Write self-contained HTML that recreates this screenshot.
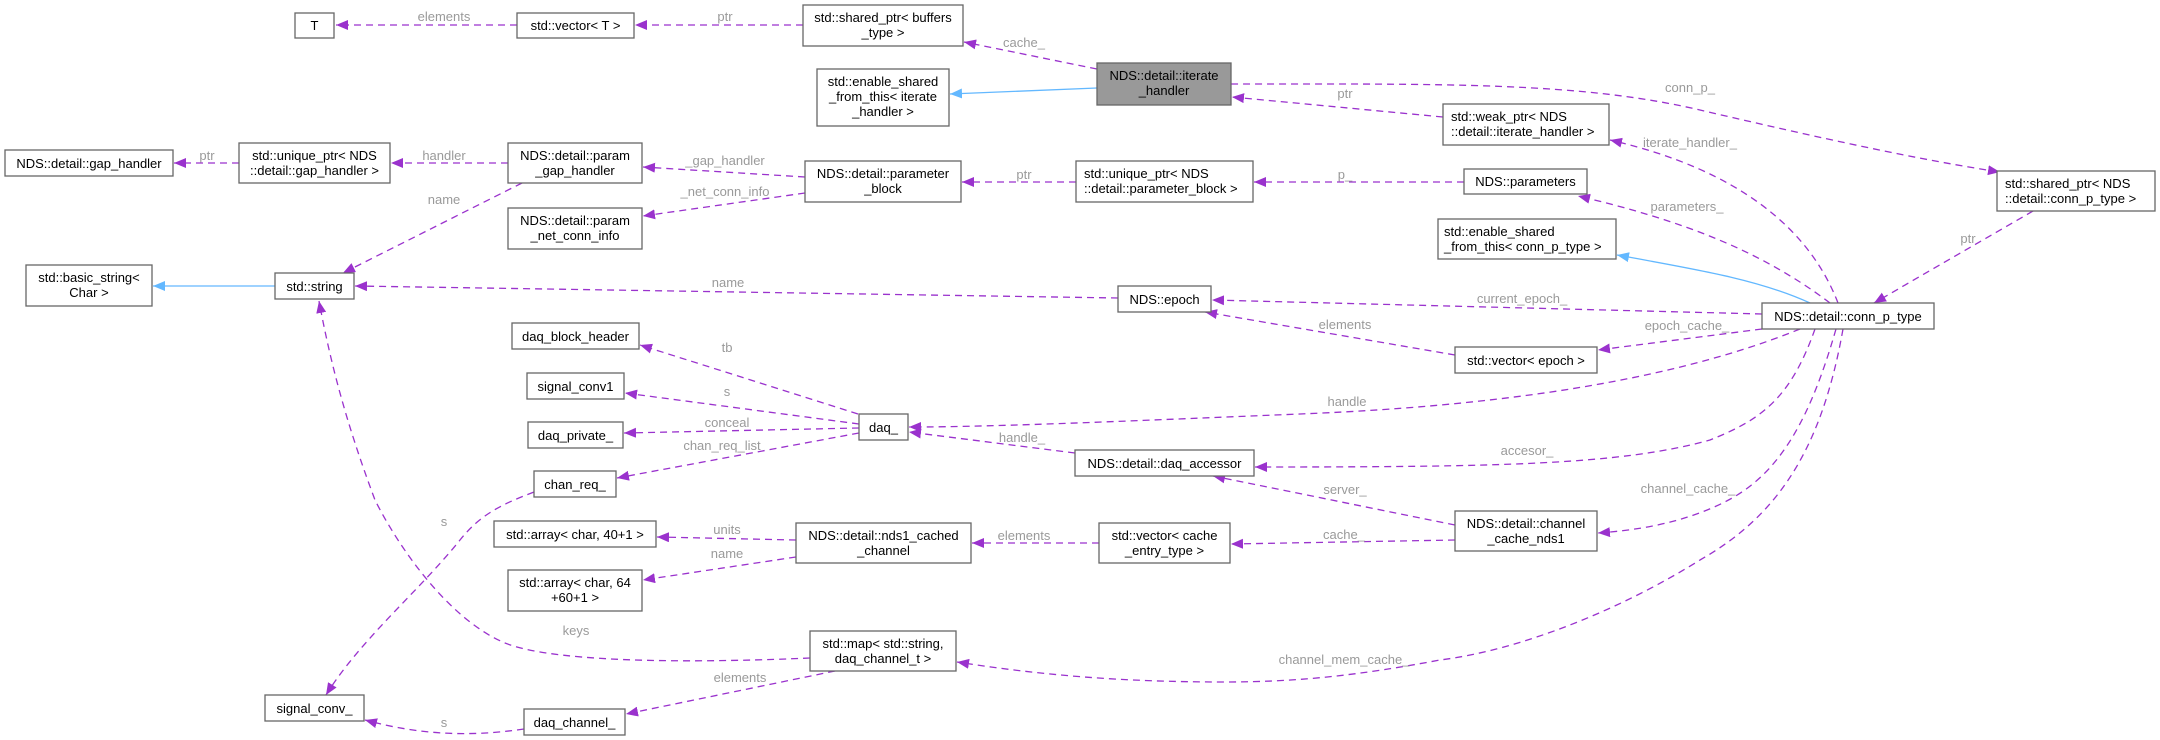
<!DOCTYPE html>
<html><head><meta charset="utf-8"><style>
html,body{margin:0;padding:0;background:#fff;}
svg{display:block;}
.n rect{fill:#fff;stroke:#666;stroke-width:1.3;}
.n text{font-family:"Liberation Sans",sans-serif;font-size:13px;fill:#000;}
.e{fill:none;stroke:#9a32cd;stroke-width:1.3;stroke-dasharray:7,5;}
.b{fill:none;stroke:#63b8ff;stroke-width:1.3;}
.l{font-family:"Liberation Sans",sans-serif;font-size:13px;fill:#9a9a9a;text-anchor:middle;}
</style></head><body>
<svg width="2160" height="740" viewBox="0 0 2160 740" xmlns="http://www.w3.org/2000/svg">
<defs>
<marker id="p" markerUnits="userSpaceOnUse" markerWidth="14" markerHeight="12" refX="12" refY="5" orient="auto"><path d="M0,0 L12,5 L0,10 Z" fill="#9a32cd"/></marker>
<marker id="q" markerUnits="userSpaceOnUse" markerWidth="14" markerHeight="12" refX="12" refY="5" orient="auto"><path d="M0,0 L12,5 L0,10 Z" fill="#63b8ff"/></marker>
</defs>

<!-- edges -->
<path class="e" marker-end="url(#p)" d="M517,25 L336,25"/><text class="l" x="444" y="21">elements</text>
<path class="e" marker-end="url(#p)" d="M803,25 L635,25"/><text class="l" x="725" y="21">ptr</text>
<path class="e" marker-end="url(#p)" d="M1097,69 L964,42"/><text class="l" x="1024" y="47">cache_</text>
<path class="b" marker-end="url(#q)" d="M1097,88 L950,94"/>
<path class="e" marker-end="url(#p)" d="M1231,84 C1450,84 1580,82 1700,110 C1820,138 1920,160 2000,172"/><text class="l" x="1690" y="92">conn_p_</text>
<path class="e" marker-end="url(#p)" d="M1443,117 L1232,97"/><text class="l" x="1345" y="98">ptr</text>
<path class="e" marker-end="url(#p)" d="M1838,303 C1810,230 1740,170 1610,140"/><text class="l" x="1690" y="147">iterate_handler_</text>
<path class="e" marker-end="url(#p)" d="M1830,303 C1760,250 1680,220 1578,196"/><text class="l" x="1687" y="211">parameters_</text>
<path class="b" marker-end="url(#q)" d="M1810,303 C1760,280 1700,270 1617,255"/>
<path class="e" marker-end="url(#p)" d="M2033,211 L1874,303"/><text class="l" x="1968" y="243">ptr</text>
<path class="e" marker-end="url(#p)" d="M1762,314 L1212,300"/><text class="l" x="1522" y="303">current_epoch_</text>
<path class="e" marker-end="url(#p)" d="M1762,329 L1598,350"/><text class="l" x="1687" y="330">epoch_cache_</text>
<path class="e" marker-end="url(#p)" d="M1455,355 L1205,312"/><text class="l" x="1345" y="329">elements</text>
<path class="e" marker-end="url(#p)" d="M1118,298 L355,286"/><text class="l" x="728" y="287">name</text>
<path class="e" marker-end="url(#p)" d="M508,163 L391,163"/><text class="l" x="444" y="160">handler</text>
<path class="e" marker-end="url(#p)" d="M239,163 L174,163"/><text class="l" x="207" y="160">ptr</text>
<path class="e" marker-end="url(#p)" d="M522,183 L343,273"/><text class="l" x="444" y="204">name</text>
<path class="e" marker-end="url(#p)" d="M805,177 L643,167"/><text class="l" x="725" y="165">_gap_handler</text>
<path class="e" marker-end="url(#p)" d="M805,193 L643,216"/><text class="l" x="725" y="196">_net_conn_info</text>
<path class="e" marker-end="url(#p)" d="M1076,182 L962,182"/><text class="l" x="1024" y="179">ptr</text>
<path class="e" marker-end="url(#p)" d="M1464,182 L1254,182"/><text class="l" x="1345" y="179">p_</text>
<path class="b" marker-end="url(#q)" d="M275,286 L153,286"/>
<path class="e" marker-end="url(#p)" d="M858,414 L640,345"/><text class="l" x="727" y="352">tb</text>
<path class="e" marker-end="url(#p)" d="M859,424 L625,393"/><text class="l" x="727" y="396">s</text>
<path class="e" marker-end="url(#p)" d="M859,428 L624,433"/><text class="l" x="727" y="427">conceal</text>
<path class="e" marker-end="url(#p)" d="M859,433 L617,478"/><text class="l" x="722" y="450">chan_req_list</text>
<path class="e" marker-end="url(#p)" d="M1800,329 C1650,390 1450,408 1300,414 C1150,420 1000,427 909,427"/><text class="l" x="1347" y="406">handle</text>
<path class="e" marker-end="url(#p)" d="M1075,453 L909,432"/><text class="l" x="1022" y="442">handle_</text>
<path class="e" marker-end="url(#p)" d="M1815,329 C1790,400 1760,420 1710,440 C1620,465 1500,467 1255,467"/><text class="l" x="1527" y="455">accesor_</text>
<path class="e" marker-end="url(#p)" d="M1455,525 L1213,476"/><text class="l" x="1345" y="494">server_</text>
<path class="e" marker-end="url(#p)" d="M1836,329 C1810,420 1780,470 1734,497 C1690,522 1640,530 1598,533"/><text class="l" x="1688" y="493">channel_cache_</text>
<path class="e" marker-end="url(#p)" d="M1455,540 L1231,544"/><text class="l" x="1344" y="539">cache_</text>
<path class="e" marker-end="url(#p)" d="M1099,543 L972,543"/><text class="l" x="1024" y="540">elements</text>
<path class="e" marker-end="url(#p)" d="M796,540 L657,537"/><text class="l" x="727" y="534">units</text>
<path class="e" marker-end="url(#p)" d="M796,557 L643,580"/><text class="l" x="727" y="558">name</text>
<path class="e" marker-end="url(#p)" d="M1843,329 C1820,460 1770,520 1700,560 C1620,610 1520,650 1440,660 C1360,675 1300,682 1225,682 C1120,682 1040,675 957,662"/><text class="l" x="1344" y="664">channel_mem_cache_</text>
<path class="e" marker-end="url(#p)" d="M810,658 C720,662 560,665 505,643 C450,620 400,550 375,500 C345,420 330,360 319,301"/><text class="l" x="576" y="635">keys</text>
<path class="e" marker-end="url(#p)" d="M835,671 L626,714"/><text class="l" x="740" y="682">elements</text>
<path class="e" marker-end="url(#p)" d="M534,492 C500,505 480,515 460,540 C420,590 360,640 326,695"/><text class="l" x="444" y="526">s</text>
<path class="e" marker-end="url(#p)" d="M524,729 C470,737 420,735 365,720"/><text class="l" x="444" y="727">s</text>

<!-- nodes -->
<g class="n">
<rect x="295" y="13" width="39" height="25"/><text x="314.5" y="30" text-anchor="middle">T</text>
<rect x="517" y="13" width="117" height="25"/><text x="575.5" y="30" text-anchor="middle">std::vector&lt; T &gt;</text>
<rect x="803" y="5" width="160" height="41"/><text x="883" y="22" text-anchor="middle">std::shared_ptr&lt; buffers</text><text x="883" y="37" text-anchor="middle">_type &gt;</text>
<rect x="817" y="69" width="132" height="57"/><text x="883" y="86" text-anchor="middle">std::enable_shared</text><text x="883" y="101" text-anchor="middle">_from_this&lt; iterate</text><text x="883" y="116" text-anchor="middle">_handler &gt;</text>
<rect x="1097" y="63" width="134" height="42" style="fill:#999"/><text x="1164" y="80" text-anchor="middle">NDS::detail::iterate</text><text x="1164" y="95" text-anchor="middle">_handler</text>
<rect x="5" y="150" width="168" height="26"/><text x="89" y="168" text-anchor="middle">NDS::detail::gap_handler</text>
<rect x="239" y="143" width="151" height="40"/><text x="314.5" y="160" text-anchor="middle">std::unique_ptr&lt; NDS</text><text x="314.5" y="175" text-anchor="middle">::detail::gap_handler &gt;</text>
<rect x="508" y="143" width="134" height="40"/><text x="575" y="160" text-anchor="middle">NDS::detail::param</text><text x="575" y="175" text-anchor="middle">_gap_handler</text>
<rect x="508" y="208" width="134" height="41"/><text x="575" y="225" text-anchor="middle">NDS::detail::param</text><text x="575" y="240" text-anchor="middle">_net_conn_info</text>
<rect x="805" y="161" width="156" height="41"/><text x="883" y="178" text-anchor="middle">NDS::detail::parameter</text><text x="883" y="193" text-anchor="middle">_block</text>
<rect x="1076" y="161" width="177" height="41"/><text x="1084" y="178">std::unique_ptr&lt; NDS</text><text x="1084" y="193">::detail::parameter_block &gt;</text>
<rect x="1443" y="104" width="166" height="41"/><text x="1451" y="121">std::weak_ptr&lt; NDS</text><text x="1451" y="136">::detail::iterate_handler &gt;</text>
<rect x="1464" y="169" width="123" height="25"/><text x="1525.5" y="186" text-anchor="middle">NDS::parameters</text>
<rect x="1438" y="219" width="178" height="40"/><text x="1444" y="236">std::enable_shared</text><text x="1444" y="251">_from_this&lt; conn_p_type &gt;</text>
<rect x="1997" y="171" width="158" height="40"/><text x="2005" y="188">std::shared_ptr&lt; NDS</text><text x="2005" y="203">::detail::conn_p_type &gt;</text>
<rect x="26" y="265" width="126" height="41"/><text x="89" y="282" text-anchor="middle">std::basic_string&lt;</text><text x="89" y="297" text-anchor="middle">Char &gt;</text>
<rect x="275" y="273" width="79" height="26"/><text x="314.5" y="291" text-anchor="middle">std::string</text>
<rect x="1118" y="286" width="93" height="26"/><text x="1164.5" y="304" text-anchor="middle">NDS::epoch</text>
<rect x="1762" y="303" width="172" height="26"/><text x="1848" y="321" text-anchor="middle">NDS::detail::conn_p_type</text>
<rect x="1455" y="347" width="142" height="26"/><text x="1526" y="365" text-anchor="middle">std::vector&lt; epoch &gt;</text>
<rect x="512" y="323" width="127" height="26"/><text x="575.5" y="341" text-anchor="middle">daq_block_header</text>
<rect x="527" y="373" width="97" height="26"/><text x="575.5" y="391" text-anchor="middle">signal_conv1</text>
<rect x="528" y="422" width="95" height="26"/><text x="575.5" y="440" text-anchor="middle">daq_private_</text>
<rect x="534" y="471" width="82" height="26"/><text x="575" y="489" text-anchor="middle">chan_req_</text>
<rect x="859" y="414" width="49" height="26"/><text x="883.5" y="432" text-anchor="middle">daq_</text>
<rect x="1075" y="450" width="179" height="26"/><text x="1164.5" y="468" text-anchor="middle">NDS::detail::daq_accessor</text>
<rect x="494" y="521" width="162" height="26"/><text x="575" y="539" text-anchor="middle">std::array&lt; char, 40+1 &gt;</text>
<rect x="508" y="570" width="134" height="41"/><text x="575" y="587" text-anchor="middle">std::array&lt; char, 64</text><text x="575" y="602" text-anchor="middle">+60+1 &gt;</text>
<rect x="796" y="523" width="175" height="40"/><text x="883.5" y="540" text-anchor="middle">NDS::detail::nds1_cached</text><text x="883.5" y="555" text-anchor="middle">_channel</text>
<rect x="1099" y="523" width="131" height="40"/><text x="1164.5" y="540" text-anchor="middle">std::vector&lt; cache</text><text x="1164.5" y="555" text-anchor="middle">_entry_type &gt;</text>
<rect x="1455" y="511" width="142" height="40"/><text x="1526" y="528" text-anchor="middle">NDS::detail::channel</text><text x="1526" y="543" text-anchor="middle">_cache_nds1</text>
<rect x="810" y="631" width="146" height="40"/><text x="883" y="648" text-anchor="middle">std::map&lt; std::string,</text><text x="883" y="663" text-anchor="middle">daq_channel_t &gt;</text>
<rect x="265" y="695" width="99" height="26"/><text x="314.5" y="713" text-anchor="middle">signal_conv_</text>
<rect x="524" y="709" width="101" height="26"/><text x="574.5" y="727" text-anchor="middle">daq_channel_</text>
</g>
</svg>
</body></html>
